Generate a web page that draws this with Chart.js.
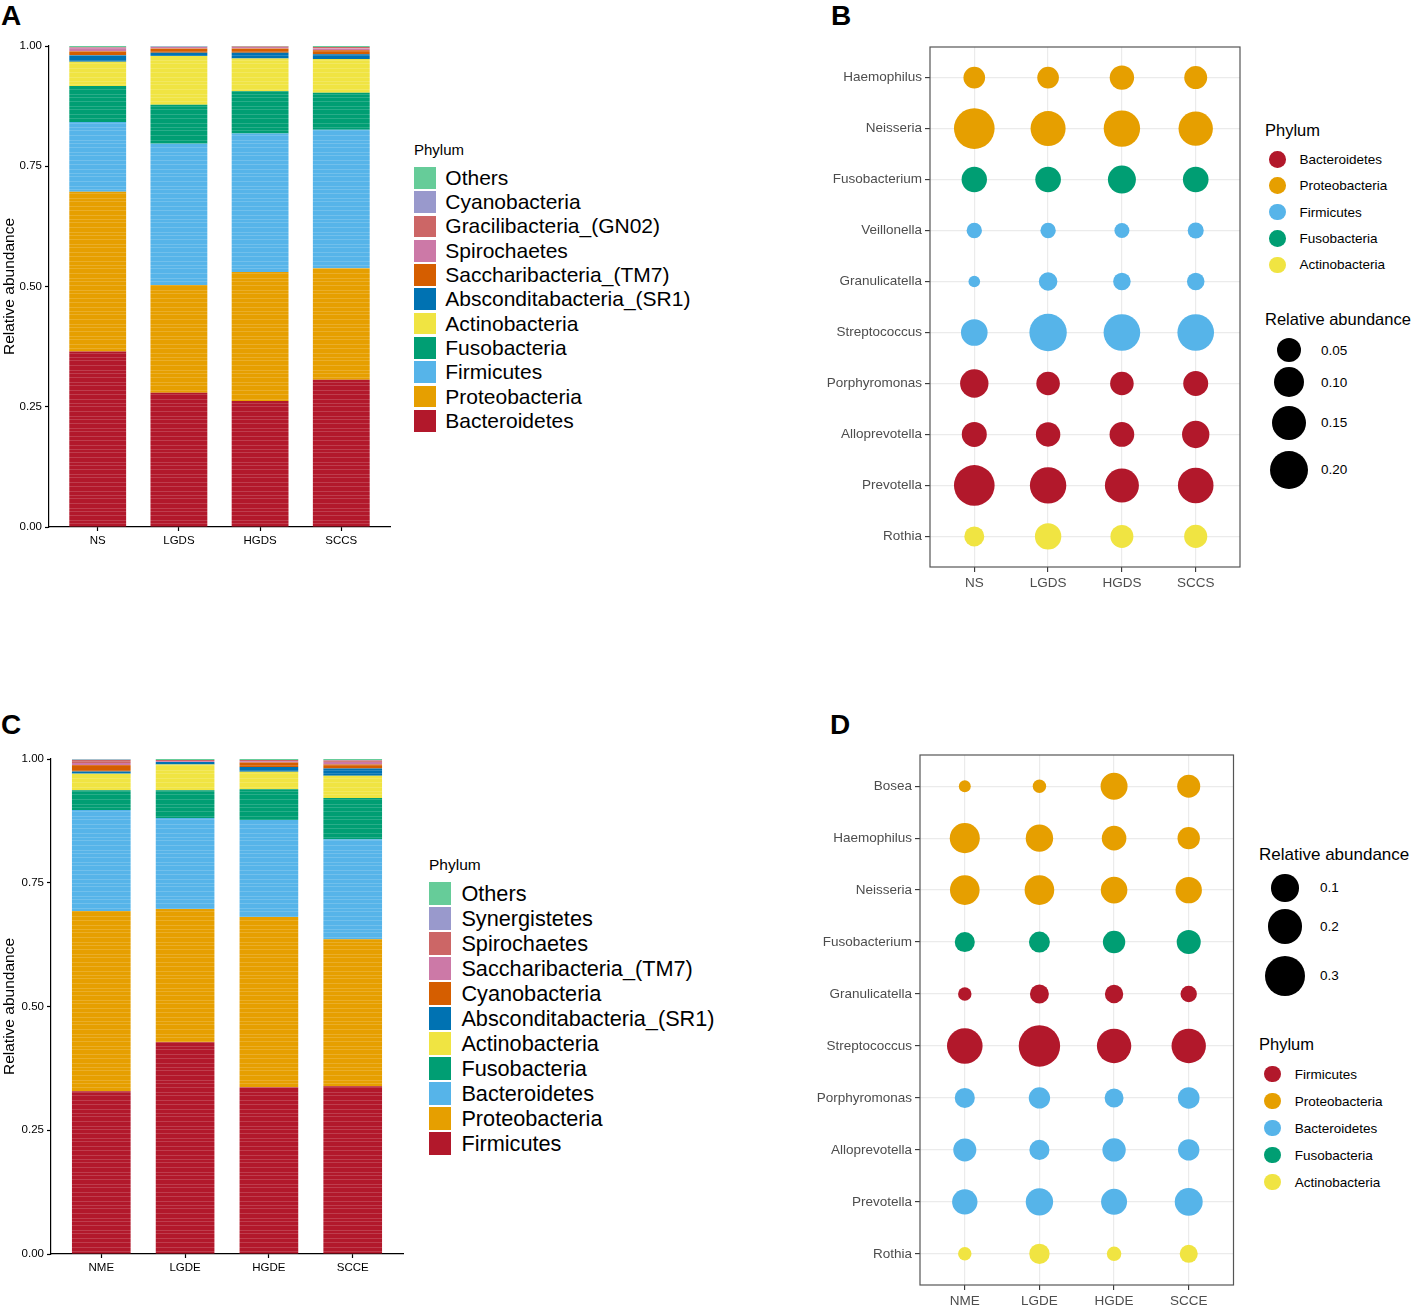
<!DOCTYPE html>
<html lang="en">
<head>
  <meta charset="UTF-8" />
  <title>Microbiota composition</title>
  <script src="https://cdn.jsdelivr.net/npm/chart.js"></script>
  <style>
    body {
      margin: 0;
      background: #fff;
      font-family: "Liberation Sans", Arial, Helvetica, sans-serif;
      color: #000;
    }
    #page {
      position: relative;
      width: 1418px;
      height: 1308px;
      overflow: hidden;
    }
    canvas, .tag, .leg {
      position: absolute;
    }
    .tag {
      font-size: 28px;
      font-weight: bold;
      line-height: 1;
    }
    .leg .row {
      display: flex;
      align-items: center;
    }
    .leg .key {
      display: flex;
      align-items: center;
      justify-content: center;
      flex: none;
    }
    .leg .lab {
      white-space: nowrap;
    }
  </style>
</head>
<body>
  <div id="page">
    <div class="tag" style="left:1px;top:2px">A</div>
    <div class="tag" style="left:831px;top:2px">B</div>
    <div class="tag" style="left:1px;top:711px">C</div>
    <div class="tag" style="left:830px;top:711px">D</div>

    <canvas id="chartA" width="400" height="570" style="left:0;top:0"></canvas>
    <canvas id="chartB" width="430" height="600" style="left:820px;top:0"></canvas>
    <canvas id="chartC" width="420" height="580" style="left:0;top:710px"></canvas>
    <canvas id="chartD" width="445" height="598" style="left:800px;top:710px"></canvas>
  </div>

  <script>
    // ---- panel A: phylum composition, stomach groups ----
    const groupsA = ['NS', 'LGDS', 'HGDS', 'SCCS'];
    // stacking order, bottom to top
    const phylaA = ['Bacteroidetes', 'Proteobacteria', 'Firmicutes', 'Fusobacteria', 'Actinobacteria',
      'Absconditabacteria_(SR1)', 'Saccharibacteria_(TM7)', 'Spirochaetes', 'Gracilibacteria_(GN02)',
      'Cyanobacteria', 'Others'];
    const colorsA = ['#b2182b', '#e69f00', '#56b4e9', '#009e73', '#f0e442',
      '#0072b2', '#d55e00', '#cc79a7', '#cc6666', '#9999cc', '#66cc99'];
    const nsA   = [0.365, 0.332, 0.145, 0.075, 0.050, 0.014, 0.008, 0.007, 0.001, 0.001, 0.002];
    const lgdsA = [0.279, 0.224, 0.294, 0.081, 0.101, 0.007, 0.009, 0.003, 0.000, 0.001, 0.001];
    const hgdsA = [0.262, 0.268, 0.288, 0.088, 0.068, 0.012, 0.009, 0.003, 0.001, 0.000, 0.001];
    const sccsA = [0.306, 0.232, 0.288, 0.077, 0.070, 0.010, 0.008, 0.004, 0.003, 0.000, 0.002];

    // ---- panel C: phylum composition, esophagus groups ----
    const groupsC = ['NME', 'LGDE', 'HGDE', 'SCCE'];
    const phylaC = ['Firmicutes', 'Proteobacteria', 'Bacteroidetes', 'Fusobacteria', 'Actinobacteria',
      'Absconditabacteria_(SR1)', 'Cyanobacteria', 'Saccharibacteria_(TM7)', 'Spirochaetes',
      'Synergistetes', 'Others'];
    const colorsC = colorsA;
    const nmeC  = [0.329, 0.364, 0.204, 0.040, 0.033, 0.005, 0.013, 0.004, 0.006, 0.001, 0.001];
    const lgdeC = [0.428, 0.269, 0.184, 0.056, 0.052, 0.005, 0.000, 0.002, 0.002, 0.000, 0.002];
    const hgdeC = [0.337, 0.344, 0.196, 0.062, 0.035, 0.010, 0.009, 0.003, 0.002, 0.000, 0.002];
    const scceC = [0.339, 0.297, 0.202, 0.083, 0.045, 0.015, 0.008, 0.005, 0.003, 0.001, 0.002];

    const yTicksAC = [0, 0.25, 0.5, 0.75, 1];

    // ---- panel B: top genera, stomach groups (rows top to bottom) ----
    const generaB = ['Haemophilus', 'Neisseria', 'Fusobacterium', 'Veillonella', 'Granulicatella',
      'Streptococcus', 'Porphyromonas', 'Alloprevotella', 'Prevotella', 'Rothia'];
    const genusPhylumB = ['Proteobacteria', 'Proteobacteria', 'Fusobacteria', 'Firmicutes', 'Firmicutes',
      'Firmicutes', 'Bacteroidetes', 'Bacteroidetes', 'Bacteroidetes', 'Actinobacteria'];
    const phylaB = ['Bacteroidetes', 'Proteobacteria', 'Firmicutes', 'Fusobacteria', 'Actinobacteria'];
    const colorsB = ['#b2182b', '#e69f00', '#56b4e9', '#009e73', '#f0e442'];
    const nsB   = [0.035, 0.232, 0.060, 0.008, 0.001, 0.070, 0.085, 0.057, 0.232, 0.026];
    const lgdsB = [0.035, 0.156, 0.062, 0.008, 0.019, 0.186, 0.047, 0.053, 0.173, 0.068];
    const hgdsB = [0.053, 0.173, 0.082, 0.007, 0.015, 0.176, 0.047, 0.055, 0.144, 0.043];
    const sccsB = [0.043, 0.148, 0.062, 0.010, 0.015, 0.176, 0.057, 0.076, 0.163, 0.044];
    const sizeBreaksB = [0.05, 0.10, 0.15, 0.20];

    // ---- panel D: top genera, esophagus groups ----
    const generaD = ['Bosea', 'Haemophilus', 'Neisseria', 'Fusobacterium', 'Granulicatella',
      'Streptococcus', 'Porphyromonas', 'Alloprevotella', 'Prevotella', 'Rothia'];
    const genusPhylumD = ['Proteobacteria', 'Proteobacteria', 'Proteobacteria', 'Fusobacteria', 'Firmicutes',
      'Firmicutes', 'Bacteroidetes', 'Bacteroidetes', 'Bacteroidetes', 'Actinobacteria'];
    const phylaD = ['Firmicutes', 'Proteobacteria', 'Bacteroidetes', 'Fusobacteria', 'Actinobacteria'];
    const colorsD = ['#b2182b', '#e69f00', '#56b4e9', '#009e73', '#f0e442'];
    const nmeD  = [0.002, 0.131, 0.126, 0.035, 0.005, 0.211, 0.035, 0.057, 0.079, 0.005];
    const lgdeD = [0.005, 0.100, 0.126, 0.041, 0.028, 0.315, 0.044, 0.035, 0.100, 0.037];
    const hgdeD = [0.095, 0.071, 0.091, 0.052, 0.025, 0.192, 0.028, 0.060, 0.085, 0.008];
    const scceD = [0.057, 0.052, 0.089, 0.066, 0.015, 0.192, 0.046, 0.044, 0.106, 0.023];
    const sizeBreaksD = [0.1, 0.2, 0.3];

    // bubble radius in px (area-style scale, like ggplot scale_size)
    const radiusB = v => 4.8 + 32.2 * Math.sqrt(v);
    const radiusD = v => 4.7 + 28.5 * Math.sqrt(v);

    const FONT = '"Liberation Sans", Arial, Helvetica, sans-serif';
    Chart.defaults.font.family = FONT;
    Chart.defaults.color = '#000';

    // thin light streaks, the bars are stacks of many samples
    function streaks(color) {
      const c = document.createElement('canvas');
      c.width = 4; c.height = 46;
      const g = c.getContext('2d');
      g.fillStyle = color;
      g.fillRect(0, 0, 4, 46);
      g.fillStyle = 'rgba(255,255,255,0.16)';
      [2, 5, 9, 14, 17, 22, 26, 31, 35, 38, 43].forEach(y => g.fillRect(0, y, 4, 1));
      return g.createPattern(c, 'repeat');
    }

    function stackChart(id, groups, phyla, colors, cols, box) {
      const datasets = phyla.map((p, k) => ({
        label: p,
        data: cols.map((col, i) => ({ x: i, y: col[k] })),
        backgroundColor: streaks(colors[k]),
        borderWidth: 0,
        barPercentage: 0.7,
        categoryPercentage: 1
      }));
      const axisLine = { color: '#000', width: 1.2 };
      const tickGrid = { drawOnChartArea: false, drawTicks: true, tickLength: 4, tickColor: '#000', tickWidth: 1.2, offset: false };
      return new Chart(document.getElementById(id), {
        type: 'bar',
        data: { datasets },
        options: {
          responsive: false,
          animation: false,
          layout: { autoPadding: false, padding: { top: box.top, right: box.right, left: 0, bottom: 0 } },
          plugins: { legend: { display: false }, tooltip: { enabled: false } },
          scales: {
            x: {
              type: 'linear', stacked: true, offset: false, min: -0.6, max: groups.length - 0.4,
              afterBuildTicks: s => { s.ticks = groups.map((g, i) => ({ value: i })); },
              afterFit: s => { s.height = box.xh; },
              ticks: { callback: v => groups[v], font: { size: 11.5 }, color: '#000', padding: 3, maxRotation: 0, autoSkip: false },
              grid: tickGrid,
              border: axisLine
            },
            y: {
              stacked: true, min: 0, max: 1,
              afterBuildTicks: s => { s.ticks = yTicksAC.map(v => ({ value: v })); },
              afterFit: s => { s.width = box.yw; },
              ticks: { callback: v => v.toFixed(2), font: { size: 11.5 }, color: '#000', padding: 3 },
              grid: tickGrid,
              border: axisLine,
              title: { display: true, text: 'Relative abundance', font: { size: 15.5 }, color: '#000', padding: 0 }
            }
          }
        }
      });
    }

    const panelBorder = {
      id: 'panelBorder',
      afterDraw(chart) {
        const a = chart.chartArea, c = chart.ctx;
        c.save();
        c.strokeStyle = '#555';
        c.lineWidth = 1.2;
        c.strokeRect(a.left, a.top, a.right - a.left, a.bottom - a.top);
        c.restore();
      }
    };

    function bubbleChart(id, groups, genera, genusPhylum, phyla, colors, cols, radius, box) {
      const n = genera.length;
      const datasets = phyla.map((p, k) => ({
        label: p,
        backgroundColor: colors[k],
        borderWidth: 0,
        data: genera.flatMap((g, j) => genusPhylum[j] !== p ? [] :
          cols.map((col, i) => ({ x: i, y: n - j, r: radius(col[j]) })))
      }));
      const grid = { color: '#ebebeb', lineWidth: 1.2, drawTicks: true, tickLength: 5, tickColor: '#333', tickWidth: 1.1 };
      return new Chart(document.getElementById(id), {
        type: 'bubble',
        data: { datasets },
        plugins: [panelBorder],
        options: {
          responsive: false,
          animation: false,
          layout: { autoPadding: false, padding: { top: box.top, right: box.right, left: 0, bottom: 0 } },
          plugins: { legend: { display: false }, tooltip: { enabled: false } },
          scales: {
            x: {
              type: 'linear', min: -0.6, max: groups.length - 0.4,
              afterBuildTicks: s => { s.ticks = groups.map((g, i) => ({ value: i })); },
              afterFit: s => { s.height = box.xh; },
              ticks: { callback: v => groups[v], font: { size: 13.5 }, color: '#4d4d4d', padding: 3, maxRotation: 0, autoSkip: false },
              grid,
              border: { display: false }
            },
            y: {
              type: 'linear', min: 0.4, max: n + 0.6,
              afterBuildTicks: s => { s.ticks = genera.map((g, j) => ({ value: n - j })); },
              afterFit: s => { s.width = box.yw; },
              ticks: { callback: v => genera[n - v], font: { size: 13.5 }, color: '#4d4d4d', padding: 3, autoSkip: false },
              grid,
              border: { display: false }
            }
          }
        }
      });
    }

    // legend block: title + rows of (key, label)
    function addLegend(spec) {
      const box = document.createElement('div');
      box.className = 'leg';
      box.style.left = spec.left + 'px';
      box.style.top = spec.top + 'px';
      const t = document.createElement('div');
      t.textContent = spec.title;
      t.style.fontSize = spec.titleSize + 'px';
      t.style.lineHeight = spec.titleLine + 'px';
      t.style.height = spec.titleH + 'px';
      box.appendChild(t);
      spec.items.forEach(it => {
        const row = document.createElement('div');
        row.className = 'row';
        row.style.height = it.h + 'px';
        const key = document.createElement('div');
        key.className = 'key';
        key.style.width = spec.keyW + 'px';
        key.style.height = it.h + 'px';
        const sw = document.createElement('div');
        sw.style.width = it.w + 'px';
        sw.style.height = it.hh + 'px';
        sw.style.background = it.color;
        if (it.round) sw.style.borderRadius = '50%';
        key.appendChild(sw);
        const lab = document.createElement('div');
        lab.className = 'lab';
        lab.textContent = it.label;
        lab.style.fontSize = spec.labelSize + 'px';
        lab.style.marginLeft = spec.gap + 'px';
        row.appendChild(key);
        row.appendChild(lab);
        box.appendChild(row);
      });
      document.getElementById('page').appendChild(box);
    }

    // ---- draw ----
    stackChart('chartA', groupsA, phylaA, colorsA, [nsA, lgdsA, hgdsA, sccsA],
      { top: 46, right: 10, xh: 43, yw: 49 });
    stackChart('chartC', groupsC, phylaC, colorsC, [nmeC, lgdeC, hgdeC, scceC],
      { top: 49, right: 17, xh: 36, yw: 51 });
    bubbleChart('chartB', groupsA, generaB, genusPhylumB, phylaB, colorsB, [nsB, lgdsB, hgdsB, sccsB], radiusB,
      { top: 47, right: 10, xh: 33, yw: 110 });
    bubbleChart('chartD', groupsC, generaD, genusPhylumD, phylaD, colorsD, [nmeD, lgdeD, hgdeD, scceD], radiusD,
      { top: 45, right: 11.5, xh: 23, yw: 120 });

    // square legends, listed top of stack first
    addLegend({
      left: 414, top: 142, title: 'Phylum', titleSize: 15, titleLine: 16, titleH: 23.7,
      keyW: 22.3, gap: 9, labelSize: 21,
      items: phylaA.map((p, k) => ({ label: p, color: colorsA[k], w: 22.3, hh: 21.7, h: 24.3 })).reverse()
    });
    addLegend({
      left: 429, top: 857, title: 'Phylum', titleSize: 15.5, titleLine: 16, titleH: 24,
      keyW: 22.4, gap: 10, labelSize: 21.7,
      items: phylaC.map((p, k) => ({ label: p, color: colorsC[k], w: 22.4, hh: 22.3, h: 25 })).reverse()
    });

    // size key rows grow with the circle, as in ggplot
    const sizeRowH = d => 1.56 * d - 9.8;

    addLegend({
      left: 1265, top: 120.5, title: 'Phylum', titleSize: 16.5, titleLine: 19, titleH: 25.6,
      keyW: 25, gap: 9.5, labelSize: 13.5,
      items: phylaB.map((p, k) => ({ label: p, color: colorsB[k], w: 16.6, hh: 16.6, h: 26.4, round: true }))
    });
    addLegend({
      left: 1265, top: 309.8, title: 'Relative abundance', titleSize: 16.5, titleLine: 19, titleH: 26.4,
      keyW: 48, gap: 8, labelSize: 13.5,
      items: sizeBreaksB.map(v => {
        const d = 2 * radiusB(v);
        return { label: v.toFixed(2), color: '#000', w: d, hh: d, h: sizeRowH(d), round: true };
      })
    });
    addLegend({
      left: 1259, top: 844.5, title: 'Relative abundance', titleSize: 17, titleLine: 19, titleH: 27,
      keyW: 52, gap: 9, labelSize: 13.5,
      items: sizeBreaksD.map(v => {
        const d = 2 * radiusD(v);
        return { label: v.toFixed(1), color: '#000', w: d, hh: d, h: sizeRowH(d), round: true };
      })
    });
    addLegend({
      left: 1259, top: 1034.5, title: 'Phylum', titleSize: 16.5, titleLine: 19, titleH: 26,
      keyW: 27, gap: 8.7, labelSize: 13.5,
      items: phylaD.map((p, k) => ({ label: p, color: colorsD[k], w: 16.6, hh: 16.6, h: 27, round: true }))
    });
  </script>
</body>
</html>
